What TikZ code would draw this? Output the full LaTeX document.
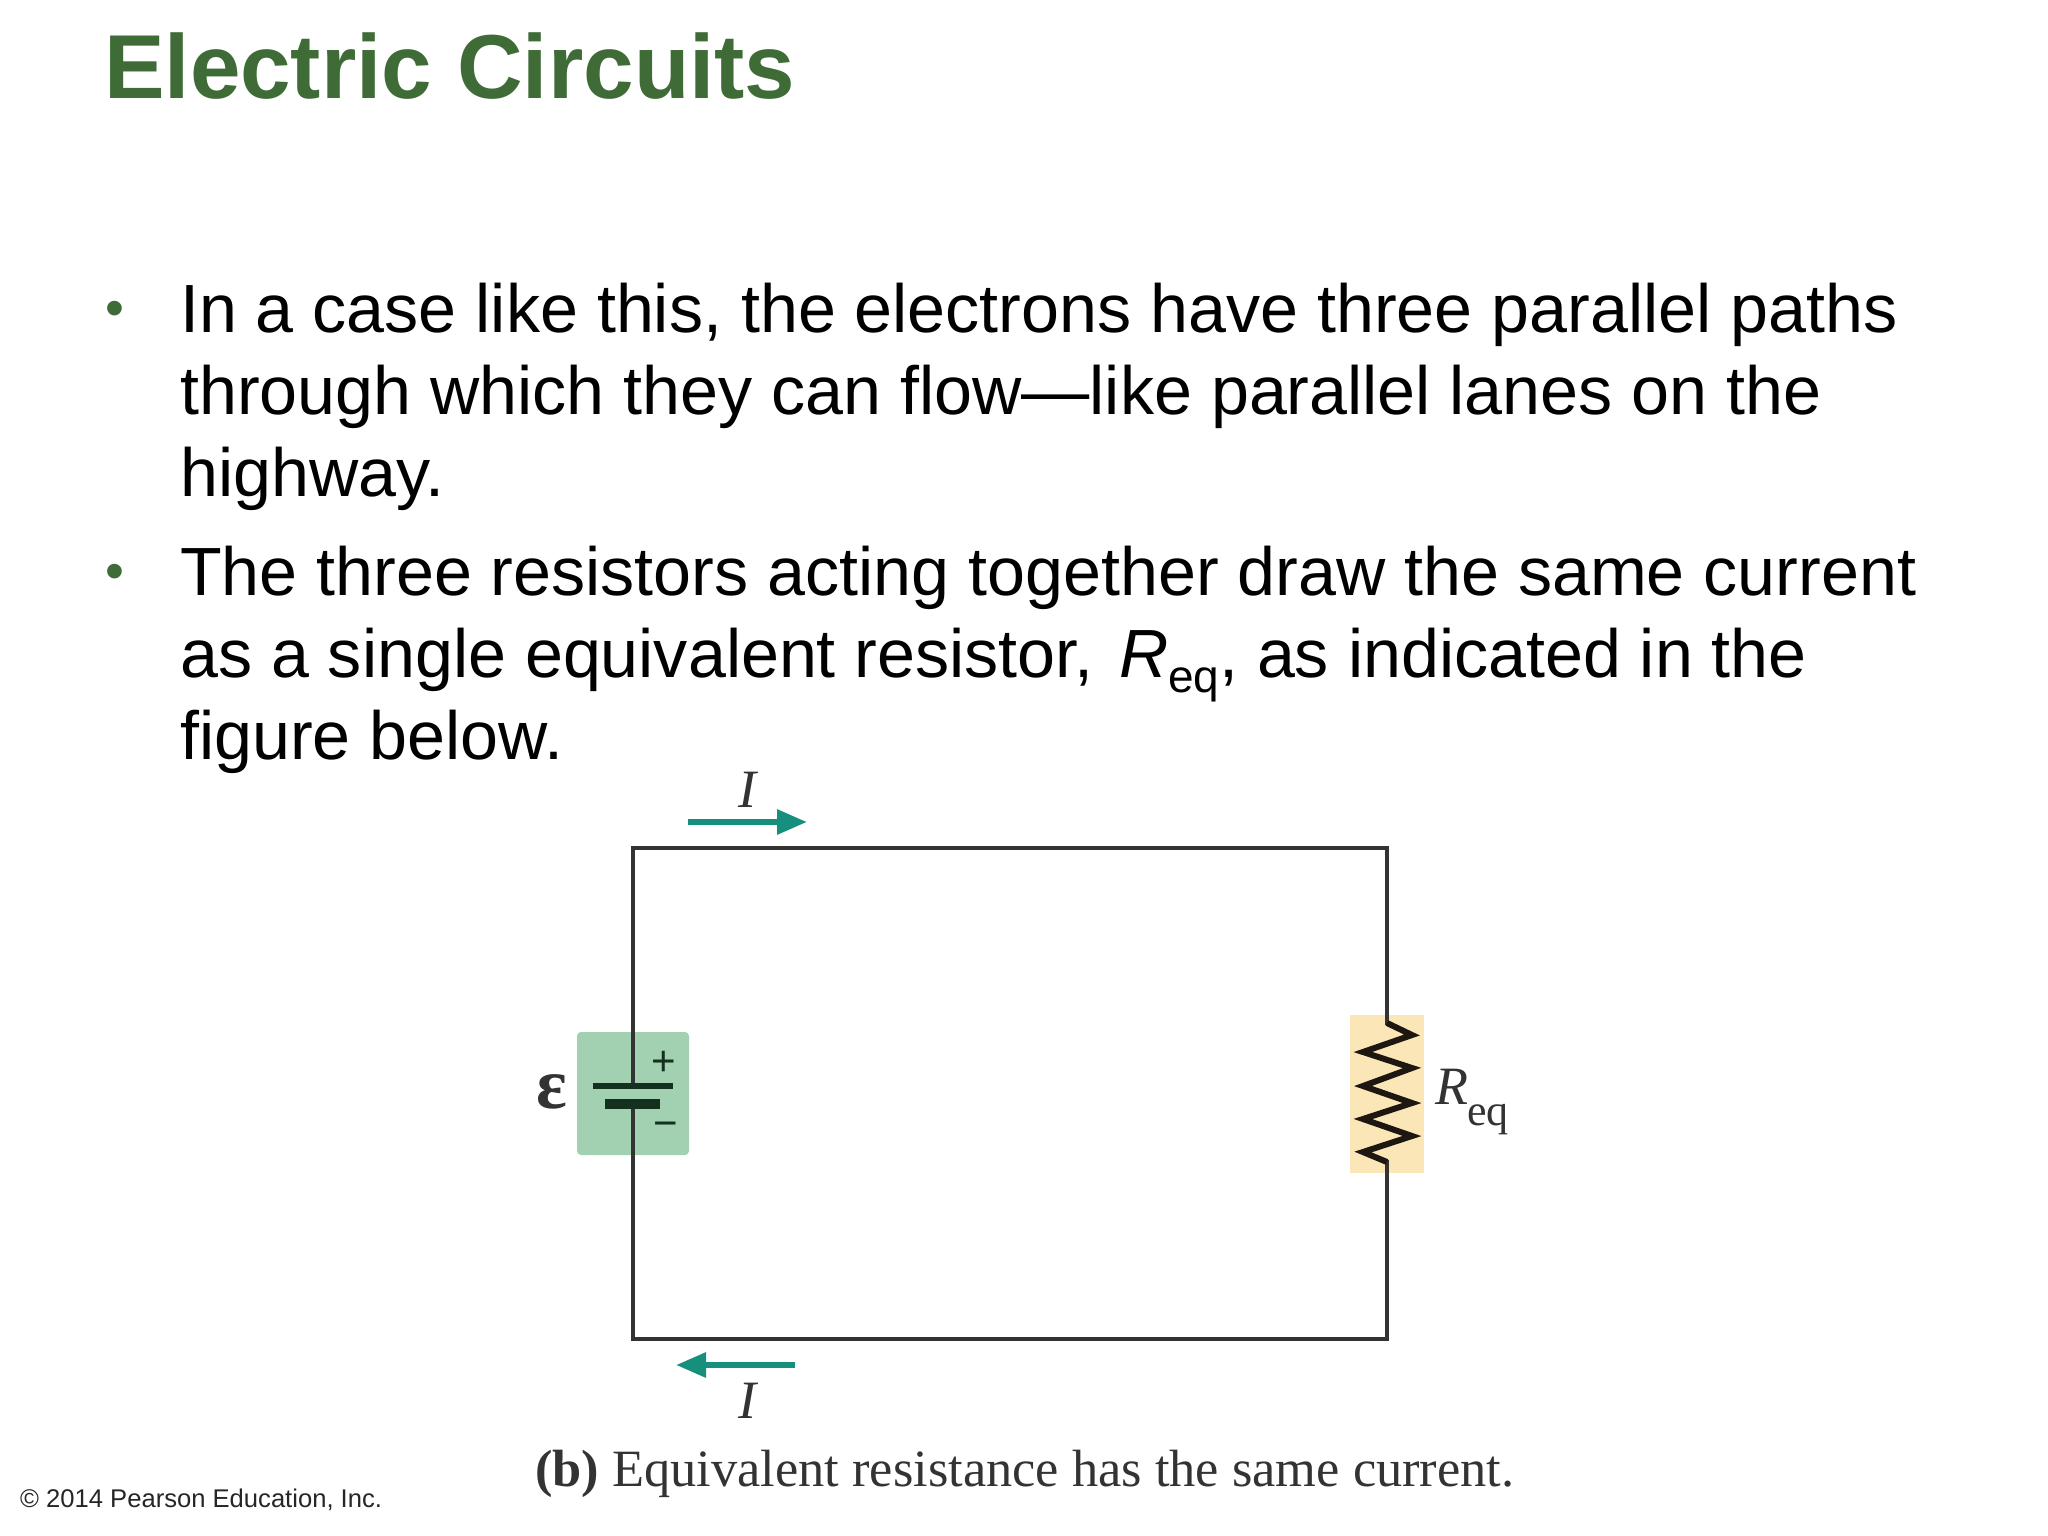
\documentclass[tikz,border=0pt]{standalone}
\usepackage{fontspec}
\setmainfont{Liberation Sans}
\newfontfamily\capserif{Liberation Serif}
\usetikzlibrary{arrows.meta}
\definecolor{titlegreen}{HTML}{3F6B37}
\definecolor{wirecol}{HTML}{333333}
\definecolor{battfill}{HTML}{A1D1B0}
\definecolor{resfill}{HTML}{FBE6B8}
\definecolor{arrowteal}{HTML}{168F7C}
\definecolor{darkplate}{HTML}{14301F}
\definecolor{zigcol}{HTML}{1E1610}
\tikzset{
  x=1pt,y=-1pt,
  titletext/.style={anchor=base west,inner sep=0pt,font=\fontsize{90.8}{90.8}\selectfont\bfseries,text=titlegreen},
  bodytext/.style={anchor=base west,inner sep=0pt,font=\fontsize{68.2}{68.2}\selectfont,text=black},
  bulletmark/.style={anchor=center,inner sep=0pt,font=\fontsize{54}{54}\selectfont,text=titlegreen},
  wire/.style={draw=wirecol,line width=4.5pt,line cap=rect,line join=miter},
  currentarrow/.style={draw=arrowteal,line width=6pt,-{Triangle[length=30pt,width=24pt]}},
  serifsym/.style={inner sep=0pt,font=\capserif,text=wirecol},
  signmark/.style={inner sep=0pt,font=\fontsize{42}{42}\selectfont,text=darkplate}
}
\begin{document}
\begin{tikzpicture}
\useasboundingbox (0,0) rectangle (2048,1536);
\fill[white] (0,0) rectangle (2048,1536);
\node[titletext] (title) at (104,99) {Electric Circuits};
\node[bulletmark] (b1) at (115,314) {•};
\node[bulletmark] (b2) at (115,577) {•};
\node[bodytext] (l1) at (180,332) {In a case like this, the electrons have three parallel paths};
\node[bodytext] (l2) at (180,414) {through which they can flow—like parallel lanes on the};
\node[bodytext] (l3) at (180,496) {highway.};
\node[bodytext] (l4) at (180,595) {The three resistors acting together draw the same current};
\node[bodytext] (l5) at (180,677) {as a single equivalent resistor, \kern7pt\textit{R}\kern-1pt\raisebox{-0.23em}{\fontsize{46}{46}\selectfont eq}, as indicated in the};
\node[bodytext] (l6) at (180,759) {figure below.};
% coloured backings
\fill[battfill,rounded corners=4pt] (577,1032) rectangle (689,1155);
\fill[resfill] (1350,1015) rectangle (1424,1173);
% circuit
\coordinate (plateP) at (633,1086);
\coordinate (plateN) at (633,1104);
\coordinate (tl) at (633,848);
\coordinate (tr) at (1387,848);
\coordinate (br) at (1387,1339);
\coordinate (bl) at (633,1339);
\coordinate (resT) at (1387,1023);
\coordinate (resB) at (1387,1162);
\draw[wire] (plateP) -- (tl) -- (tr) -- (resT);
\draw[wire] (resB) -- (br) -- (bl) -- (plateN);
\draw[draw=zigcol,line width=6pt,line join=miter] (resT) -- (1412,1035) -- (1363,1052) -- (1412,1068) -- (1363,1086) -- (1412,1103) -- (1363,1119) -- (1412,1136) -- (1363,1152) -- (resB);
% battery plates
\coordinate (pA) at (593,1086); \coordinate (pB) at (673,1086);
\coordinate (nA) at (605,1104); \coordinate (nB) at (660,1104);
\draw[draw=darkplate,line width=6pt] (pA) -- (pB);
\draw[draw=darkplate,line width=10pt] (nA) -- (nB);
\node[signmark] (plus) at (664,1063) {+};
\node[signmark] (minus) at (666,1130) {−};
\node[serifsym,font=\capserif\fontsize{72}{72}\selectfont\bfseries] (emf) at (552,1092) {ε};
% labels
\node[serifsym,anchor=base west,font=\capserif\fontsize{54}{54}\selectfont\itshape] (rlabel) at (1435,1104) {R};
\node[serifsym,anchor=base west,font=\capserif\fontsize{44}{44}\selectfont] (rsub) at (1467,1125) {eq};
% current arrows
\coordinate (a1s) at (688,822); \coordinate (a1e) at (807,822);
\coordinate (a2s) at (795,1365); \coordinate (a2e) at (676,1365);
\draw[currentarrow] (a1s) -- (a1e);
\draw[currentarrow] (a2s) -- (a2e);
\node[serifsym,font=\capserif\fontsize{54}{54}\selectfont\itshape] (i1) at (747,790) {I};
\node[serifsym,font=\capserif\fontsize{54}{54}\selectfont\itshape] (i2) at (747,1401) {I};
% caption
\node[anchor=base west,inner sep=0pt,text=wirecol,font=\capserif\fontsize{52.4}{52.4}\selectfont] (cap) at (535,1486) {\textbf{(b)} Equivalent resistance has the same current.};
\node[anchor=base west,inner sep=0pt,text=black!85,font=\fontsize{25.6}{25.6}\selectfont] (copy) at (20,1507) {© 2014 Pearson Education, Inc.};
\end{tikzpicture}
\end{document}
